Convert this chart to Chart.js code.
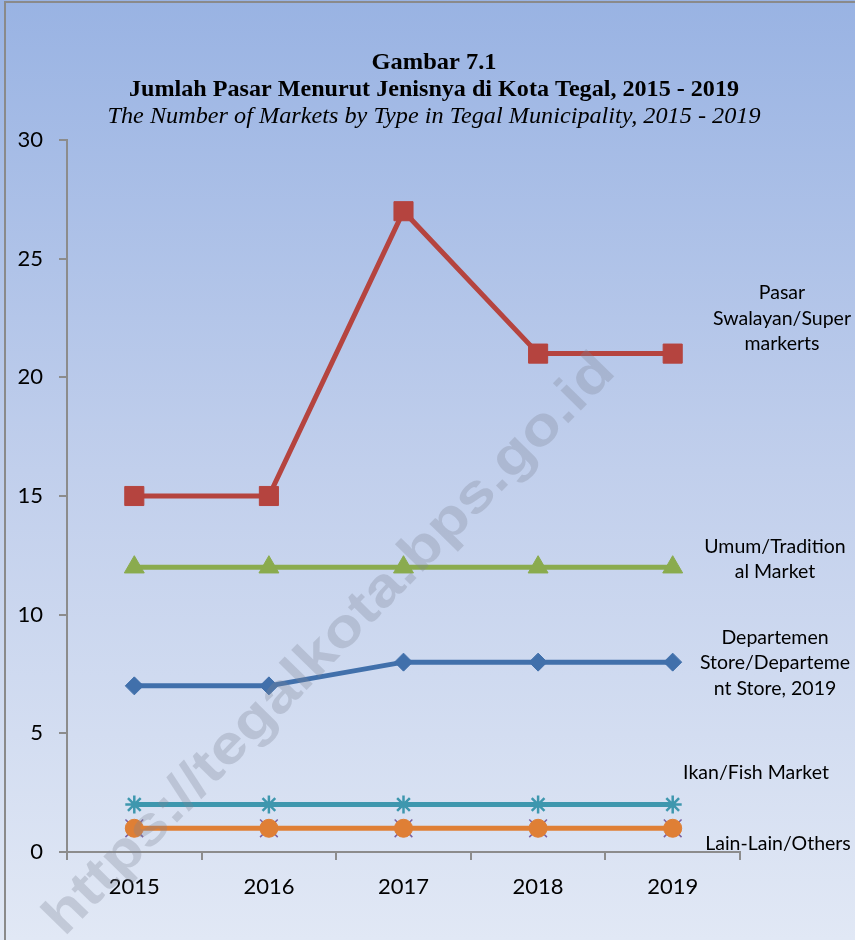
<!DOCTYPE html>
<html>
<head>
<meta charset="utf-8">
<script src="https://cdn.jsdelivr.net/npm/chart.js@4.4.1/dist/chart.umd.min.js"></script>
<style>
  html, body { margin: 0; padding: 0; background: #ffffff; }
  #wrap { width: 855px; height: 940px; position: relative; }
</style>
</head>
<body>
<div id="wrap"><canvas id="c" width="855" height="940"></canvas></div>
<script>
// ---- Data ----
const categories = ['2015', '2016', '2017', '2018', '2019'];
const swalayan = [15, 15, 27, 21, 21];
const umum = [12, 12, 12, 12, 12];
const departemen = [7, 7, 8, 8, 8];
const ikan = [2, 2, 2, 2, 2];
const lainLain = [1, 1, 1, 1, 1];
const hiddenSeries = [1, 1, 1, 1, 1];
const seriesLabels = [
  ['Pasar', 'Swalayan/Super', 'markerts'],
  ['Umum/Tradition', 'al Market'],
  ['Departemen', 'Store/Departeme', 'nt Store, 2019'],
  ['Ikan/Fish Market'],
  ['Lain-Lain/Others']
];
const titleLines = [
  'Gambar 7.1',
  'Jumlah Pasar Menurut Jenisnya di Kota Tegal, 2015 - 2019',
  'The Number of Markets by Type in Tegal Municipality, 2015 - 2019'
];
const yTicks = [0, 5, 10, 15, 20, 25, 30];
const watermark = 'https://tegalkota.bps.go.id';

// ---- Styles ----
const labelStyle = [
  { dx: 42, dy: -35 },
  { dx: 35, dy: -8 },
  { dx: 35, dy: 1 },
  { dx: 16, dy: -32 },
  { dx: 38, dy: 15 }
];

const bgPlugin = {
  id: 'bg',
  beforeDraw(chart) {
    const ctx = chart.ctx;
    const W = chart.width, H = chart.height;
    ctx.save();
    const g = ctx.createLinearGradient(0, 0, 0, H);
    g.addColorStop(0, '#99b3e3');
    g.addColorStop(0.5, '#c1cfec');
    g.addColorStop(1, '#e1e8f5');
    ctx.fillStyle = g;
    ctx.fillRect(0, 0, W, H);
    // border
    ctx.strokeStyle = '#8a8a8a';
    ctx.lineWidth = 2;
    ctx.strokeRect(5, 2, W + 10, H + 10);
    // titles
    ctx.fillStyle = '#000000';
    ctx.textAlign = 'center';
    ctx.textBaseline = 'middle';
    const cx = 434;
    const fit = (txt, font, y, w) => {
      ctx.font = font;
      const m = ctx.measureText(txt).width;
      ctx.save();
      ctx.translate(cx, y);
      ctx.scale(w / m, 1);
      ctx.fillText(txt, 0, 0);
      ctx.restore();
    };
    fit(titleLines[0], 'bold 23px "Liberation Serif"', 63, 125);
    fit(titleLines[1], 'bold 23px "Liberation Serif"', 90, 610);
    fit(titleLines[2], 'italic 23px "Liberation Serif"', 117, 653);
    ctx.restore();
  },
  afterDatasetsDraw(chart) {
    const ctx = chart.ctx;
    const ys = chart.scales.y;
    const right = chart.chartArea.right;
    const data = [swalayan, umum, departemen, ikan, lainLain];
    ctx.save();
    ctx.fillStyle = '#000000';
    ctx.font = '19.5px Lato';
    ctx.textAlign = 'center';
    ctx.textBaseline = 'middle';
    seriesLabels.forEach((lines, i) => {
      const last = data[i][data[i].length - 1];
      const yc = ys.getPixelForValue(last) + labelStyle[i].dy;
      const xc = right + labelStyle[i].dx;
      const lh = 25.5;
      lines.forEach((ln, k) => {
        ctx.fillText(ln, xc, yc + (k - (lines.length - 1) / 2) * lh);
      });
    });
    // watermark
    ctx.translate(330, 645);
    ctx.rotate(-Math.PI / 4 - 0.01);
    ctx.font = 'bold 54px "Liberation Sans"';
    const m = ctx.measureText(watermark).width;
    ctx.scale(790 / m, 1);
    ctx.fillStyle = 'rgba(125,132,148,0.3)';
    ctx.textAlign = 'center';
    ctx.fillText(watermark, 0, 0);
    ctx.restore();
  }
};

const ds = (label, data, color, style, radius, extra) => Object.assign({
  label, data,
  borderColor: color, backgroundColor: color,
  pointBackgroundColor: color, pointBorderColor: color,
  pointStyle: style, pointRadius: radius, pointHoverRadius: radius,
  borderWidth: 5, pointBorderWidth: 1, tension: 0
}, extra || {});

new Chart(document.getElementById('c'), {
  type: 'line',
  data: {
    labels: categories,
    datasets: [
      ds('Lain-Lain/Others', lainLain, '#df7f35', 'circle', 9),
      ds('Ikan/Fish Market', ikan, '#3e97ae', 'star', 9, { pointBorderWidth: 2.5 }),
      ds('Departemen Store', departemen, '#4170ab', 'rectRot', 9),
      ds('Pasar Swalayan/Supermarkerts', swalayan, '#b5443f', 'rect', 13.5),
      ds('Umum/Traditional Market', umum, '#8aab4e', 'triangle', 11.5),
      ds('hidden', hiddenSeries, '#7a5fa0', 'crossRot', 12.5, { showLine: false, pointBorderWidth: 1.5 })
    ]
  },
  options: {
    responsive: false,
    animation: false,
    events: [],
    layout: { padding: { left: 0, top: 140, right: 115, bottom: 0 } },
    plugins: { legend: { display: false }, tooltip: { enabled: false }, title: { display: false } },
    scales: {
      x: {
        offset: true,
        grid: { display: true, drawOnChartArea: false, offset: true, tickLength: 8, color: '#8c8c8c', lineWidth: 2 },
        border: { color: '#8c8c8c', width: 2 },
        ticks: { color: '#000', font: { family: 'Lato', size: 22 }, padding: 14 },
        afterFit(s) { s.height = 88; }
      },
      y: {
        min: 0, max: 30,
        afterBuildTicks(s) { s.ticks = yTicks.map(v => ({ value: v })); },
        grid: { display: true, drawOnChartArea: false, tickLength: 8, color: '#8c8c8c', lineWidth: 2 },
        border: { color: '#8c8c8c', width: 2 },
        ticks: { color: '#000', font: { family: 'Lato', size: 22 }, padding: 16 },
        afterFit(s) { s.width = 67; }
      }
    }
  },
  plugins: [bgPlugin]
});
</script>
</body>
</html>
